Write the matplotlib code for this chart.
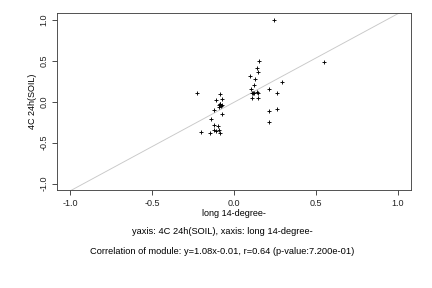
import numpy as np
import matplotlib
matplotlib.use('Agg')
import matplotlib.pyplot as plt

# values
x_vals = [0.245, 0.549, 0.155, 0.139, 0.145, 0.100, 0.126, 0.120, 0.292, 0.106,
          0.212, 0.139, 0.124, 0.118, 0.145, 0.108, 0.265, 0.108, 0.145, 0.212,
          0.261, 0.212, -0.228, -0.082, -0.112, -0.073, -0.094, -0.082, -0.090,
          -0.075, -0.124, -0.075, -0.143, -0.124, -0.100, -0.204, -0.149, -0.124,
          -0.112, -0.094, -0.082, -0.086, -0.079]
y_vals = [1.000, 0.484, 0.496, 0.410, 0.360, 0.310, 0.275, 0.200, 0.238, 0.152,
          0.152, 0.119, 0.107, 0.098, 0.107, 0.098, 0.098, 0.049, 0.049, -0.119,
          -0.094, -0.246, 0.098, 0.086, 0.016, 0.029, -0.041, -0.025, -0.066,
          -0.037, -0.107, -0.156, -0.217, -0.283, -0.295, -0.377, -0.389, -0.352,
          -0.361, -0.352, -0.389, -0.030, -0.050]
slope = 1.08
intercept = -0.01
ticks = [-1.0, -0.5, 0.0, 0.5, 1.0]
tick_labels = ['-1.0', '-0.5', '0.0', '0.5', '1.0']

plt.rcParams['font.family'] = ['Liberation Sans', 'DejaVu Sans']

fig = plt.figure(figsize=(6, 4), dpi=72)
ax = fig.add_axes([0.132, 0.340, 0.819, 0.615])

lim = 1.08
line_x = np.array([-lim, lim])
ax.plot(line_x, slope * line_x + intercept, color='#c8c8c8', linewidth=0.9, zorder=1)
ax.scatter(x_vals, y_vals, marker='+', s=22, color='black', linewidths=0.9, zorder=2)

ax.set_xlim(-lim, lim)
ax.set_ylim(-lim, lim)
ax.set_xticks(ticks)
ax.set_xticklabels(tick_labels)
ax.set_yticks(ticks)
ax.set_yticklabels(tick_labels, rotation=90, va='center')
ax.tick_params(direction='out', length=5, width=0.8, labelsize=9, colors='#222222')
for sp in ax.spines.values():
    sp.set_color('#444444')
    sp.set_linewidth(0.9)

ax.set_xlabel('long 14-degree-', fontsize=9, labelpad=1)
ax.set_ylabel('4C 24h(SOIL)', fontsize=9, labelpad=3)

fig.text(0.515, 1 - 232 / 288, 'yaxis: 4C 24h(SOIL), xaxis: long 14-degree-',
         ha='center', va='center', fontsize=9.3)
fig.text(0.515, 1 - 252 / 288,
         'Correlation of module: y=1.08x-0.01, r=0.64 (p-value:7.200e-01)',
         ha='center', va='center', fontsize=9.3)

fig.savefig('out.png', dpi=72)
